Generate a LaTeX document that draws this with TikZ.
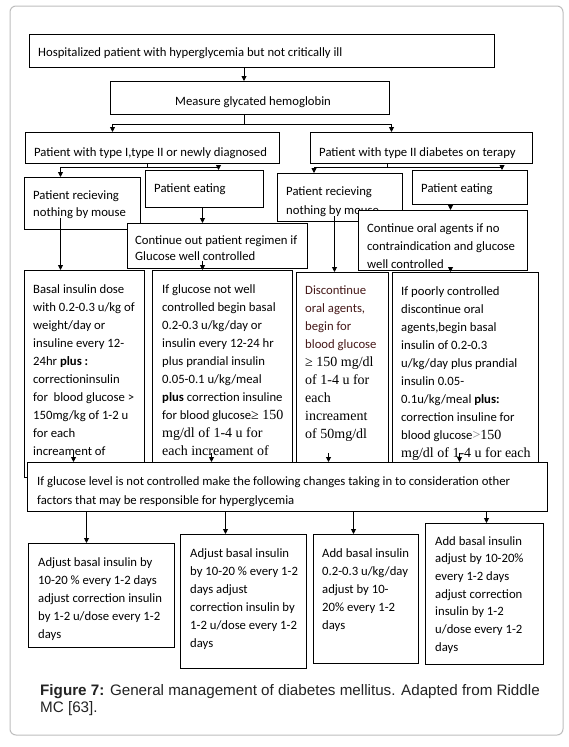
\documentclass[tikz,border=0pt]{standalone}
\usepackage{fontspec}
\setmainfont{Carlito}
\newfontfamily\tms{Liberation Serif}
\newfontfamily\arl{Liberation Sans}
\usetikzlibrary{arrows.meta}
\newcommand{\tm}[1]{{\tms\fontsize{14}{18}\selectfont #1}}
\definecolor{framegray}{RGB}{190,190,190}
\definecolor{darkred}{RGB}{70,25,25}
\definecolor{capgray}{RGB}{35,35,35}

\begin{document}
\begin{tikzpicture}[x=1pt, y=-1pt,
    box/.style={draw, fill=white, line width=1pt, anchor=north west, inner sep=0pt},
    txt/.style={anchor=north west, inner sep=0pt, align=left, font=\fontsize{12.7}{18}\selectfont},
    arr/.style={line width=0.9pt, -{Triangle[length=5pt,width=5pt]}}]
  \useasboundingbox[fill=white] (0,0) rectangle (569,747);
  \draw[framegray, line width=1pt, rounded corners=6pt] (10,6) rectangle (563,735);

  % first levels
  \node[box, minimum width=465, minimum height=33] (hosp) at (29,34) {};
  \node[txt] (hospt) at (38,47) {Hospitalized patient with hyperglycemia but not critically ill};
  \node[box, minimum width=279, minimum height=33] (meas) at (110,81) {};
  \node[txt] (meast) at (175,96) {Measure glycated hemoglobin};
  \node[box, minimum width=254, minimum height=31] (type1) at (25,132) {};
  \node[txt] (type1t) at (34,147) {Patient with type I,type II or newly diagnosed};
  \node[box, minimum width=222, minimum height=31] (type2) at (310,132) {};
  \node[txt] (type2t) at (319,147) {Patient with type II diabetes on terapy};

  % feeding
  \node[box, minimum width=116, minimum height=52] (nil1) at (24,177) {};
  \node[txt, font=\fontsize{12.7}{17}\selectfont] (nil1t) at (33,191) {Patient recieving\\nothing by mouse};
  \node[box, minimum width=118, minimum height=37] (eat1) at (145,170) {};
  \node[txt] (eat1t) at (154,184) {Patient eating};
  \node[box, minimum width=125, minimum height=48] (nil2) at (277,173) {};
  \node[txt, font=\fontsize{12.7}{19}\selectfont] (nil2t) at (286,187) {Patient recieving\\nothing by mouse};
  \node[box, minimum width=115, minimum height=34] (eat2) at (412,170) {};
  \node[txt] (eat2t) at (421,184) {Patient eating};

  \node[box, minimum width=180, minimum height=45] (cont1) at (127,223) {};
  \node[txt, font=\fontsize{12.7}{16}\selectfont] (cont1t) at (135,236) {Continue out patient regimen if\\Glucose well controlled};
  \node[box, minimum width=169, minimum height=60] (cont2) at (358,210) {};
  \node[txt] (cont2t) at (367,223) {Continue oral agents if no\\contraindication and glucose\\well controlled};

  % regimens
  \node[box, minimum width=120, minimum height=207] (b8) at (24,270) {};
  \node[txt] (b8t) at (33,284) {Basal insulin dose\\with 0.2-0.3 u/kg of\\weight/day or\\insuline every 12-\\24hr \textbf{plus :}\\correctioninsulin\\for\ \ blood glucose >\\150mg/kg of 1-2 u\\for each\\increament of};
  \node[box, minimum width=140, minimum height=207] (b14) at (152,270) {};
  \node[txt] (b14t) at (162,284) {If glucose not well\\controlled begin basal\\0.2-0.3 u/kg/day or\\insulin every 12-24 hr\\plus prandial insulin\\0.05-0.1 u/kg/meal\\\textbf{plus} correction insuline\\for blood glucose\tm{≥ 150}\\\tm{mg/dl of 1-4 u for}\\\tm{each increament of}};
  \node[box, minimum width=92, minimum height=205] (b15) at (296,272) {};
  \node[txt, text=darkred] (b15t) at (305,286) {Discontinue\\oral agents,\\begin for\\blood glucose\\\tm{\color{black}≥ 150 mg/dl}\\\tm{\color{black}of 1-4 u for}\\\tm{\color{black}each}\\\tm{\color{black}increament}\\\tm{\color{black}of 50mg/dl}};
  \node[box, minimum width=146, minimum height=205] (b16) at (392,272) {};
  \node[txt] (b16t) at (401,286) {If poorly controlled\\discontinue oral\\agents,begin basal\\insulin of 0.2-0.3\\u/kg/day plus prandial\\insulin 0.05-\\0.1u/kg/meal \textbf{plus:}\\correction insuline for\\blood glucose{\color{gray}\tm{>}}\tm{150}\\\tm{mg/dl of 1-4 u for each}};

  % junctions
  \coordinate (s1) at (244,124);
  \coordinate (s2) at (147,167);
  \coordinate (s3) at (387,167);

  \draw[arr] (hosp.south -| s1) -- (meas.north -| s1);
  \draw[arr] (meas.south -| s1) -- (s1) -| ([xshift=-40pt]type1.north);
  \draw[arr] (s1) -| ([xshift=-30pt]type2.north);
  \draw[line width=0.9pt] (type1.south -| s2) -- (s2);
  \draw[arr] (s2) -| ([xshift=-22pt]nil1.north);
  \draw[arr] (s2) -| ([xshift=14pt]eat1.north);
  \draw[line width=0.9pt] (type2.south -| s3) -- (s3);
  \draw[arr] (s3) -| ([xshift=-26pt]nil2.north);
  \draw[arr] (s3) -| ([xshift=32pt]eat2.north);
  \draw[arr] ([xshift=-2pt]eat1.south) -- ([xshift=-2pt]eat1.south |- cont1.north);
  \draw[arr] ([xshift=-2pt,yshift=8pt]eat1.south |- cont1.south) -- ([xshift=-2pt]eat1.south |- b14.north);
  \draw[arr] ([xshift=-22pt,yshift=12pt]nil1.south) -- ([xshift=-22pt]nil1.south |- b8.north);
  \draw[arr] ([xshift=-5.5pt,yshift=6pt]nil2.south) -- ([xshift=-5.5pt]nil2.south |- b15.north);
  \draw[arr] ([xshift=-19.5pt]eat2.south) -- ([xshift=-19.5pt]eat2.south |- cont2.north);
  \draw[arr] ([xshift=7.5pt,yshift=4pt]cont2.south) -- ([xshift=7.5pt]cont2.south |- b16.north);

  % adjustment
  \node[box, minimum width=520, minimum height=49] (ctrl) at (27,462) {};
  \node[txt, font=\fontsize{12.7}{19}\selectfont] (ctrlt) at (37,476) {If glucose level is not controlled make the following changes taking in to consideration other\\factors that may be responsible for hyperglycemia};
  \draw[arr] ([xshift=-11pt,yshift=25pt]b8.south) -- ([xshift=-11pt]b8.south |- ctrl.north);
  \draw[arr] ([xshift=-11pt,yshift=25pt]b14.south) -- ([xshift=-11pt]b14.south |- ctrl.north);
  \draw[arr] ([xshift=-14pt,yshift=25pt]b15.south) -- ([xshift=-14pt]b15.south |- ctrl.north);
  \draw[arr] ([xshift=-6pt,yshift=25pt]b16.south) -- ([xshift=-6pt]b16.south |- ctrl.north);

  \node[box, minimum width=146, minimum height=104] (adj1) at (28,543) {};
  \node[txt] (adj1t) at (38,557) {Adjust basal insulin by\\10-20 \% every 1-2 days\\adjust correction insulin\\by 1-2 u/dose every 1-2\\days};
  \node[box, minimum width=126, minimum height=134] (adj2) at (180,534) {};
  \node[txt] (adj2t) at (190,548) {Adjust basal insulin\\by 10-20 \% every 1-2\\days adjust\\correction insulin by\\1-2 u/dose every 1-2\\days};
  \node[box, minimum width=105, minimum height=129] (add1) at (313,534) {};
  \node[txt] (add1t) at (322,548) {Add basal insulin\\0.2-0.3 u/kg/day\\adjust by 10-\\20\% every 1-2\\days};
  \node[box, minimum width=118, minimum height=141] (add2) at (425,523) {};
  \node[txt, font=\fontsize{12.7}{17.7}\selectfont] (add2t) at (435,536) {Add basal insulin\\adjust by 10-20\%\\every 1-2 days\\adjust correction\\insulin by 1-2\\u/dose every 1-2\\days};

  \draw[arr] ([xshift=-15pt]adj1.north |- ctrl.south) -- ([xshift=-15pt]adj1.north);
  \draw[arr] ([xshift=-18pt]adj2.north |- ctrl.south) -- ([xshift=-18pt]adj2.north);
  \draw[arr] ([xshift=-12.5pt]add1.north |- ctrl.south) -- ([xshift=-12.5pt]add1.north);
  \draw[arr] ([xshift=2pt]add2.north |- ctrl.south) -- ([xshift=2pt]add2.north);

  % caption
  \node[anchor=north west, inner sep=0pt, align=left, text=capgray,
        font=\arl\fontsize{15.2}{17.5}\selectfont] (cap) at (40,684)
        {\textbf{Figure 7:} General management of diabetes mellitus. Adapted from Riddle\\MC [63].};
\end{tikzpicture}
\end{document}
